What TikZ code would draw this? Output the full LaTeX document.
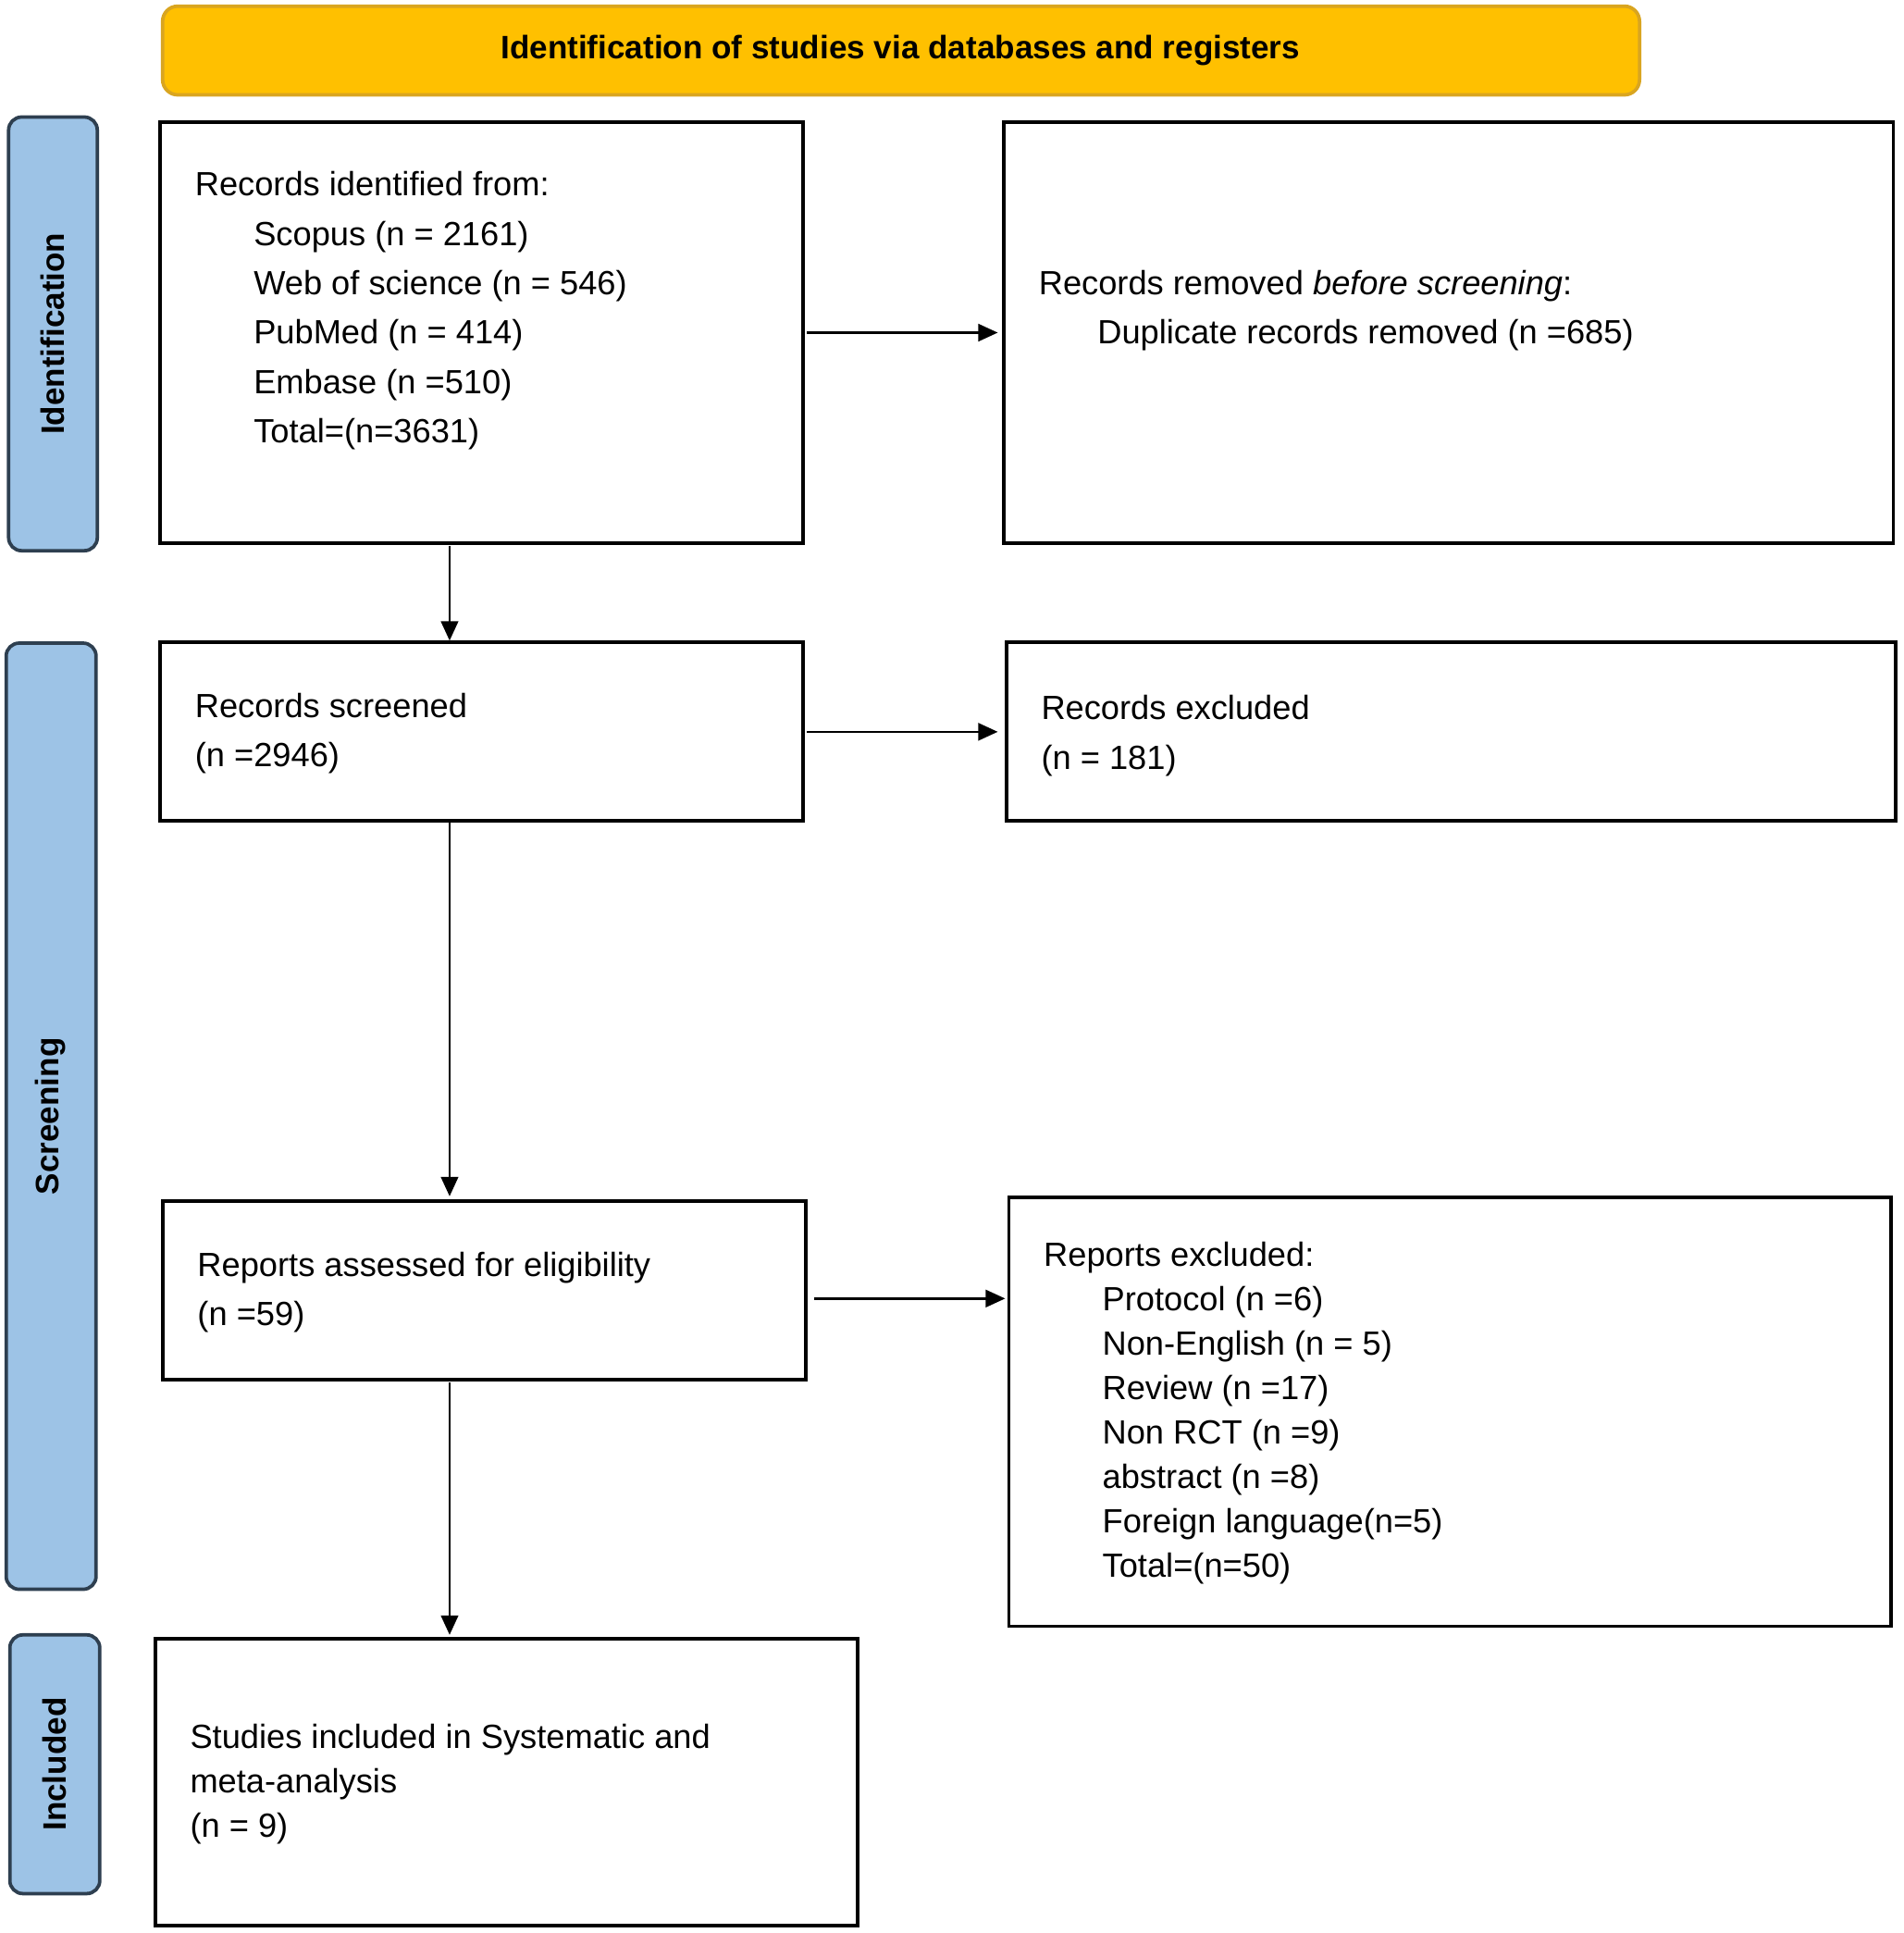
\documentclass[tikz,border=0pt]{standalone}
\usepackage{fontspec}
\setmainfont{Liberation Sans}
\usetikzlibrary{arrows.meta}
\definecolor{banner}{HTML}{FFC000}
\definecolor{bannerb}{HTML}{D9A520}
\definecolor{side}{HTML}{9DC3E6}
\definecolor{sideb}{HTML}{2E3F50}
\begin{document}
\begin{tikzpicture}[x=0.02cm,y=-0.02cm,
  box/.style={draw,line width=1.6pt,inner sep=0},
  txt/.style={anchor=north west,inner sep=0,align=left,font=\fontsize{15.5}{22.8}\selectfont},
  txts/.style={txt,font=\fontsize{15.5}{20.5}\selectfont},
  arr/.style={-{Triangle[length=9pt,width=8pt]},line width=1pt},
  sidel/.style={draw=sideb,fill=side,line width=1.6pt,rounded corners=6pt},
  sidet/.style={rotate=90,font=\fontsize{15}{18}\bfseries\selectfont}]
\useasboundingbox (0,0) rectangle (1545,1569);
% banner
\draw[fill=banner,draw=bannerb,line width=1.6pt,rounded corners=7pt] (132,5) rectangle (1331,77);
\node[font=\fontsize{15}{18}\bfseries\selectfont] (ban) at (731,41) {Identification of studies via databases and registers};
% side labels
\draw[sidel] (7,95) rectangle (79,447);
\node[sidet] (lid) at (43,271) {Identification};
\draw[sidel] (5,522) rectangle (78,1290);
\node[sidet] (lsc) at (41,906) {Screening};
\draw[sidel] (8,1327) rectangle (81,1537);
\node[sidet] (lin) at (44,1432) {Included};
% boxes
\draw[box] (130,99) rectangle (652,441); \coordinate (b1) at (391,270);
\node[txt] (t1) at (158,139) {Records identified from:\\
\hspace{50\pgflinewidth}\hspace{-50\pgflinewidth}\hspace{1.75em}Scopus (n = 2161)\\
\hspace{1.75em}Web of science (n = 546)\\
\hspace{1.75em}PubMed (n = 414)\\
\hspace{1.75em}Embase (n =510)\\
\hspace{1.75em}Total=(n=3631)};
\draw[box] (815,99) rectangle (1537,441);
\node[txt] (t2) at (843,219) {Records removed \textit{before screening}:\\
\hspace{1.75em}Duplicate records removed (n =685)};
\draw[box] (130,521) rectangle (652,666);
\node[txt] (t3) at (158,562) {Records screened\\(n =2946)};
\draw[box] (817,521) rectangle (1539,666);
\node[txt] (t4) at (845,564) {Records excluded\\(n = 181)};
\draw[box] (132,975) rectangle (654,1120);
\node[txt] (t5) at (160,1016) {Reports assessed for eligibility\\(n =59)};
\draw[box] (819,972) rectangle (1535,1320);
\node[txts] (t6) at (847,1008) {Reports excluded:\\
\hspace{1.75em}Protocol (n =6)\\
\hspace{1.75em}Non-English (n = 5)\\
\hspace{1.75em}Review (n =17)\\
\hspace{1.75em}Non RCT (n =9)\\
\hspace{1.75em}abstract (n =8)\\
\hspace{1.75em}Foreign language(n=5)\\
\hspace{1.75em}Total=(n=50)};
\draw[box] (126,1330) rectangle (696,1563);
\node[txts] (t7) at (154,1399) {Studies included in Systematic and\\meta-analysis\\(n = 9)};
% arrows
\coordinate (a1) at (655,270); \coordinate (a2) at (810,270);
\draw[arr] (a1) -- (a2);
\coordinate (a3) at (655,594); \coordinate (a4) at (810,594);
\draw[arr] (a3) -- (a4);
\coordinate (a5) at (661,1054); \coordinate (a6) at (816,1054);
\draw[arr] (a5) -- (a6);
\coordinate (v1) at (365,443); \coordinate (v2) at (365,520);
\draw[arr] (v1) -- (v2);
\coordinate (v3) at (365,668); \coordinate (v4) at (365,971);
\draw[arr] (v3) -- (v4);
\coordinate (v5) at (365,1122); \coordinate (v6) at (365,1327);
\draw[arr] (v5) -- (v6);
\end{tikzpicture}
\end{document}
